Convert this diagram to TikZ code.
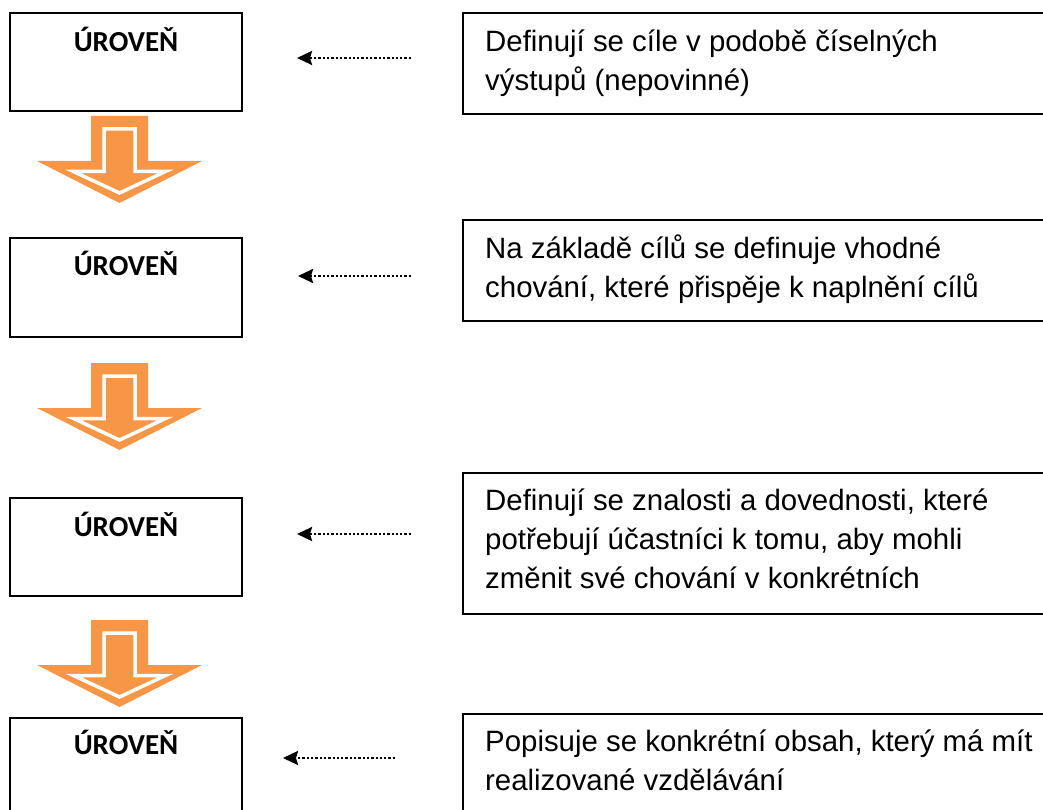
\documentclass[tikz,border=0pt]{standalone}
\usepackage{fontspec}
\setmainfont{Liberation Sans}
\newfontfamily\calib{Carlito}
\usetikzlibrary{arrows.meta}
\definecolor{acc}{HTML}{F79646}
\tikzset{
  lbox/.style={draw=black, line width=2pt, rectangle, inner sep=0pt, minimum width=232pt},
  rbox/.style={draw=black, line width=1.5pt, rectangle, inner sep=0pt, minimum width=620pt},
  lvl/.style={font=\calib\bfseries\fontsize{29}{34}\selectfont, inner sep=0pt, anchor=base},
  desc/.style={font=\fontsize{29.4}{39}\selectfont, align=left, inner sep=0pt, anchor=north west},
  dotarr/.style={line width=2.4pt, dash pattern=on 2.3pt off 2pt, -{Stealth[length=15pt,width=14pt,inset=2pt]}},
  downarrow/.pic={
    \fill[acc] (-28.5,0) -- (28.5,0) -- (28.5,45) -- (82.5,45) -- (0,87) -- (-82.5,45) -- (-28.5,45) -- cycle;
    \draw[white, line width=3.5pt, line join=miter] (-15.5,13) -- (15.5,13) -- (15.5,55.5) -- (46,55.5) -- (0,77) -- (-46,55.5) -- (-15.5,55.5) -- cycle;
  }
}
\newcommand{\st}{\rule{0pt}{27pt}}
\begin{document}
\begin{tikzpicture}[x=1pt,y=-1pt]
\useasboundingbox (0,0) rectangle (1043,810);
\clip (0,0) rectangle (1043,810);
% left level boxes
\node[lbox, minimum height=98pt] (b1) at (126,62) {};
\node[lbox, minimum height=98pt] (b2) at (126,287.5) {};
\node[lbox, minimum height=98pt] (b3) at (126,546.5) {};
\node[lbox, minimum height=122pt] (b4) at (126,779) {};
\node[lvl] (u1) at (126,52) {ÚROVEŇ};
\node[lvl] (u2) at (126,275) {ÚROVEŇ};
\node[lvl] (u3) at (126,536) {ÚROVEŇ};
\node[lvl] (u4) at (126,754) {ÚROVEŇ};
% right description boxes
\node[rbox, minimum height=101pt] (r1) at (773,63.5) {};
\node[rbox, minimum height=101pt] (r2) at (773,270.5) {};
\node[rbox, minimum height=141pt] (r3) at (773,543.5) {};
\node[rbox, minimum height=126pt] (r4) at (773,777) {};
\node[desc] (d1) at (485,24) {\st Definují se cíle v podobě číselných\\výstupů (nepovinné)};
\node[desc] (d2) at (485,231) {\st Na základě cílů se definuje vhodné\\chování, které přispěje k naplnění cílů};
\node[desc] (d3) at (485,483) {\st Definují se znalosti a dovednosti, které\\potřebují účastníci k tomu, aby mohli\\změnit své chování v konkrétních};
\node[desc] (d4) at (485,724) {\st Popisuje se konkrétní obsah, který má mít\\realizované vzdělávání};
% dotted arrows
\coordinate (t1) at (411,58);  \coordinate (h1) at (297,58);
\coordinate (t2) at (411,276); \coordinate (h2) at (298,276);
\coordinate (t3) at (411,534); \coordinate (h3) at (297,534);
\coordinate (t4) at (395,758); \coordinate (h4) at (283,758);
\draw[dotarr] (t1) -- (h1);
\draw[dotarr] (t2) -- (h2);
\draw[dotarr] (t3) -- (h3);
\draw[dotarr] (t4) -- (h4);
% orange block arrows
\pic at (119.5,116) {downarrow};
\pic at (119.5,363) {downarrow};
\pic at (119.5,620) {downarrow};
\end{tikzpicture}
\end{document}
